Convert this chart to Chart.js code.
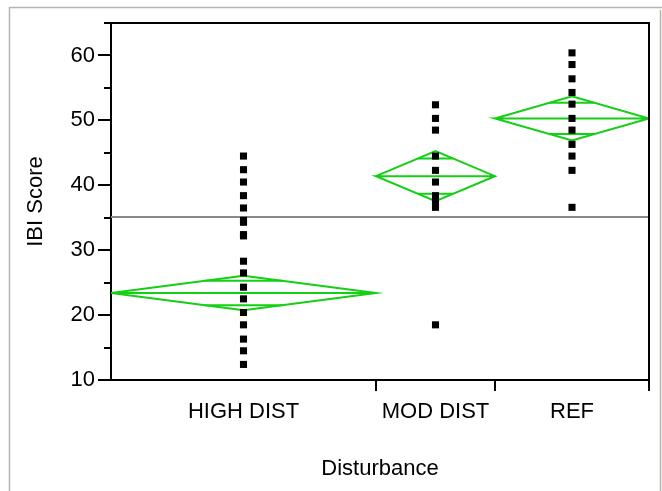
<!DOCTYPE html>
<html>
<head>
<meta charset="utf-8">
<script src="https://cdn.jsdelivr.net/npm/chart.js@4.4.0/dist/chart.umd.min.js"></script>
<style>
html, body { margin: 0; padding: 0; background: #fff; }
#wrap { width: 662px; height: 491px; position: relative; }
</style>
</head>
<body>
<div id="wrap"><canvas id="chart"></canvas></div>
<script>
const categories = ['HIGH DIST', 'MOD DIST', 'REF'];
// JMP sizes each group's slot by its sample size
const groupWidths = [26.5, 11.9, 15.4];

const highDist = [44.5, 42.4, 40.5, 38.4, 36.5, 34.6, 34.3, 32.4, 32.2, 28.3, 26.5, 24.3, 22.5, 20.4, 18.5, 16.3, 14.5, 12.4];
const modDist = [52.4, 50.3, 48.5, 44.5, 42.3, 40.5, 38.4, 37.5, 36.6, 18.5];
const refSite = [60.4, 58.6, 56.4, 54.3, 52.5, 50.3, 48.5, 46.3, 44.5, 42.3, 36.6];

// means diamonds: group mean and half height of the 95% CI
const groupMeans = [23.4, 41.4, 50.3];
const groupCI = [2.65, 3.85, 3.4];
const grandMean = 35.1;

const FONT = "'Liberation Sans', Arial, sans-serif";
const GREEN = '#14cf14';

// slot boundaries and centres along x
const bounds = [0];
groupWidths.forEach(w => bounds.push(bounds[bounds.length - 1] + w));
const centers = groupWidths.map((w, i) => bounds[i] + w / 2);
const xMax = bounds[bounds.length - 1];

const groups = [highDist, modDist, refSite];
const pointData = [];
groups.forEach((vals, i) => vals.forEach(v => pointData.push({ x: centers[i], y: v })));

const datasets = [{
    label: 'IBI',
    data: pointData,
    pointStyle: 'rect',
    pointRadius: 5,
    pointHoverRadius: 5,
    backgroundColor: '#000',
    borderWidth: 0,
    order: 0
}];

const lineSet = (data, color, width, order) => ({
    data: data,
    showLine: true,
    borderColor: color,
    borderWidth: width,
    pointRadius: 0,
    fill: false,
    order: order
});

groupMeans.forEach((m, i) => {
    const l = bounds[i], r = bounds[i + 1], c = centers[i];
    const h = groupCI[i];
    // diamond outline + mean line
    datasets.push(lineSet([
        { x: l, y: m }, { x: c, y: m + h }, { x: r, y: m }, { x: c, y: m - h }, { x: l, y: m }, { x: r, y: m }
    ], GREEN, 2, 1));
    // overlap marks at mean +/- h/sqrt(2), edge to edge of the diamond
    const d = h / Math.SQRT2;
    const half = (r - l) / 2 * (1 - d / h);
    datasets.push(lineSet([{ x: c - half, y: m + d }, { x: c + half, y: m + d }], GREEN, 2, 1));
    datasets.push(lineSet([{ x: c - half, y: m - d }, { x: c + half, y: m - d }], GREEN, 2, 1));
});

datasets.push(lineSet([{ x: 0, y: grandMean }, { x: xMax, y: grandMean }], '#8a8a8a', 2, 2));

const framePlugin = {
    id: 'frame',
    beforeDraw(chart) {
        const ctx = chart.ctx;
        ctx.save();
        ctx.fillStyle = '#fff';
        ctx.fillRect(0, 0, chart.width, chart.height);
        ctx.strokeStyle = '#b5b5ad';
        ctx.lineWidth = 1.5;
        ctx.beginPath();
        ctx.moveTo(9.5, 491); ctx.lineTo(9.5, 7.5); ctx.lineTo(662, 7.5);
        ctx.moveTo(660.5, 10); ctx.lineTo(660.5, 491);
        ctx.stroke();
        ctx.restore();
    },
    afterDraw(chart) {
        const { left, top, right, bottom } = chart.chartArea;
        const ctx = chart.ctx;
        ctx.save();
        ctx.strokeStyle = '#000';
        ctx.lineWidth = 2;
        ctx.beginPath();
        ctx.moveTo(left, top); ctx.lineTo(right, top); ctx.lineTo(right, bottom);
        ctx.stroke();
        ctx.restore();
    }
};

new Chart(document.getElementById('chart'), {
    type: 'scatter',
    data: { datasets: datasets },
    plugins: [framePlugin],
    options: {
        responsive: true,
        maintainAspectRatio: false,
        animation: false,
        events: [],
        layout: { padding: { left: 0, top: 23, right: 13, bottom: 0 } },
        plugins: { legend: { display: false }, tooltip: { enabled: false } },
        scales: {
            x: {
                type: 'linear', min: 0, max: xMax, weight: 0,
                afterBuildTicks: s => { s.ticks = bounds.slice(1).map(v => ({ value: v })); },
                afterFit: s => { s.height = 11; },
                ticks: { display: false },
                grid: { drawOnChartArea: false, drawTicks: true, tickLength: 11, color: '#000', lineWidth: 2 },
                border: { display: true, color: '#000', width: 2 }
            },
            xLabel: {
                type: 'linear', position: 'bottom', min: 0, max: xMax, weight: 1,
                afterBuildTicks: s => { s.ticks = centers.map(v => ({ value: v })); },
                afterFit: s => { s.height = 100; },
                ticks: {
                    autoSkip: false, maxRotation: 0, padding: 8, color: '#000',
                    font: { family: FONT, size: 22 },
                    callback: (v, i) => categories[i]
                },
                grid: { display: false, drawTicks: false },
                border: { display: false },
                title: { display: true, text: 'Disturbance', color: '#000', font: { family: FONT, size: 22 }, padding: { top: 0, bottom: 9 } }
            },
            y: {
                type: 'linear', position: 'left', min: 10, max: 65, weight: 1,
                afterFit: s => { s.width = 111; },
                ticks: { stepSize: 10, includeBounds: false, padding: 3, color: '#000', font: { family: FONT, size: 22 } },
                grid: { drawOnChartArea: false, tickLength: 13, color: '#000', lineWidth: 2 },
                border: { display: true, color: '#000', width: 2 },
                title: { display: true, text: 'IBI Score', color: '#000', font: { family: FONT, size: 22 }, padding: { top: 23, bottom: 0 } }
            },
            yMinor: {
                type: 'linear', position: 'left', min: 10, max: 65, weight: 0,
                afterFit: s => { s.width = 0; },
                ticks: { stepSize: 5, display: false },
                grid: { drawOnChartArea: false, tickLength: 7, color: '#000', lineWidth: 2 },
                border: { display: false }
            }
        }
    }
});
</script>
</body>
</html>
